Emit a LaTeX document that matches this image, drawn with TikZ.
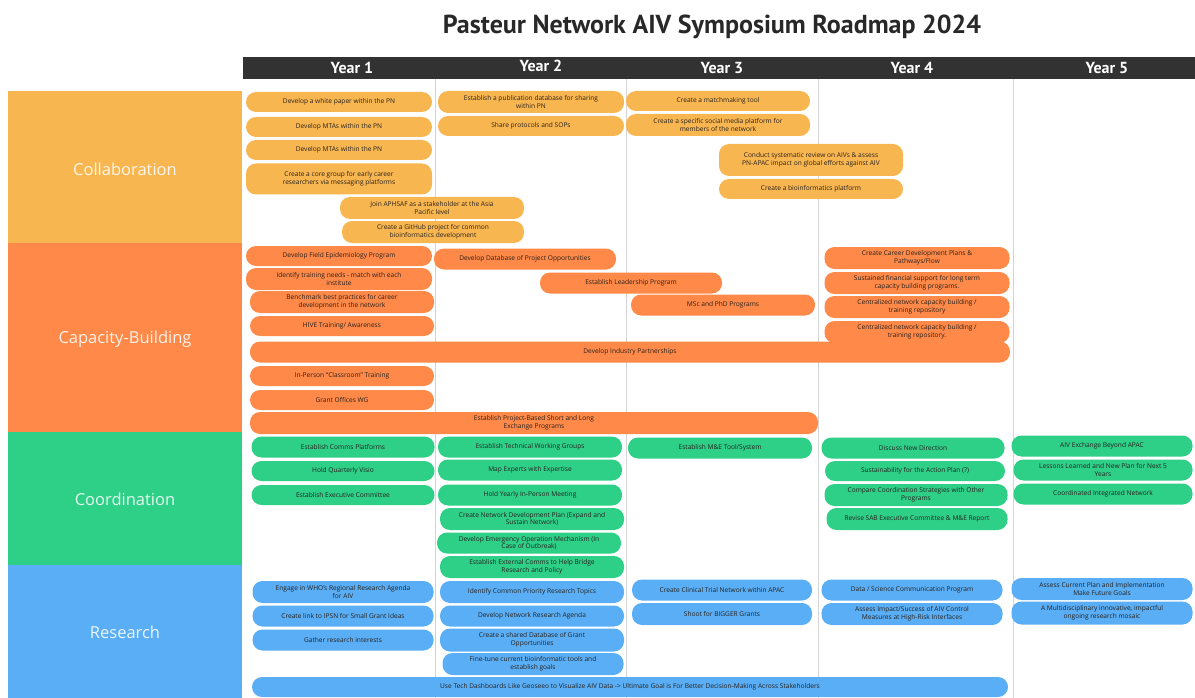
\documentclass[tikz,border=0pt]{standalone}
\usepackage{fontspec}
\setmainfont{Open Sans}
\newfontfamily\headfont{PT Sans}
\usepackage{tikz}
\definecolor{collabgold}{RGB}{248,182,81}
\definecolor{capacityorange}{RGB}{255,137,72}
\definecolor{coordgreen}{RGB}{46,207,135}
\definecolor{researchblue}{RGB}{90,174,245}
\definecolor{headergray}{RGB}{50,50,50}
\definecolor{gridgray}{RGB}{212,212,212}
\definecolor{inkdark}{RGB}{40,34,30}

\begin{document}
\begin{tikzpicture}[x=1pt, y=-1pt,
    pill/.style={rounded corners=10pt, inner sep=1pt, align=center,
        font=\fontsize{6.6}{7.7}\selectfont, text=inkdark},
    bandlabel/.style={text=white, text opacity=0.88, font=\fontsize{16.5}{19}\selectfont},
    yearlabel/.style={text=white, font=\headfont\bfseries\fontsize{16}{18}\selectfont}]
    \useasboundingbox (0,0) rectangle (1195,698);

    % Title
    \node[font=\headfont\bfseries\fontsize{26}{30}\selectfont, text=headergray!80!black] (title) at (712,27)
        {Pasteur Network AIV Symposium Roadmap 2024};

    % Year header bar
    \fill[headergray] (243,57) rectangle (1195,79);
    \foreach \cx/\cy [count=\i] in {352/68, 541/66, 722/68, 912/68, 1107/68} {
        \node[yearlabel] (year\i) at (\cx,\cy) {Year \i};
    }

    % Column dividers
    \foreach \xd in {435,626,818,1013} {
        \draw[gridgray, line width=0.6pt] (\xd,79) -- (\xd,698);
    }

    % Category bands
    \fill[collabgold] (8,91) rectangle (242,243);
    \fill[capacityorange] (8,243) rectangle (242,432);
    \fill[coordgreen] (8,432) rectangle (242,565);
    \fill[researchblue] (8,565) rectangle (242,698);
    \node[bandlabel] (collab) at (125,169) {Collaboration};
    \node[bandlabel] (capacity) at (125,339) {Capacity-Building};
    \node[bandlabel] (coord) at (125,499) {Coordination};
    \node[bandlabel] (research) at (125,632) {Research};

    % Collaboration items
    \foreach \cx/\cy/\w/\h/\txt [count=\i] in {
        339/102/186/20/{Develop a white paper within the PN},
        339/127/186/20/{Develop MTAs within the PN},
        339/150/186/20/{Develop MTAs within the PN},
        339/179/186/31/{Create a core group for early career\\researchers via messaging platforms},
        432/208/184/22/{Join APHSAF as a stakeholder at the Asia\\Pacific level},
        433/232/182/22/{Create a GitHub project for common\\bioinformatics development},
        531/102/186/22/{Establish a publication database for sharing\\within PN},
        531/126/186/20/{Share protocols and SOPs},
        718/101/184/20/{Create a matchmaking tool},
        718/125/184/22/{Create a specific social media platform for\\members of the network},
        811/160/184/32/{Conduct systematic review on AIVs \& assess\\PN-APAC impact on global efforts against AIV},
        811/189/184/20/{Create a bioinformatics platform}%
    } {
        \node[pill, fill=collabgold, minimum width=\w, minimum height=\h] (col\i) at (\cx,\cy) {\txt};
    }

    % Capacity-Building items
    \foreach \cx/\cy/\w/\h/\txt [count=\i] in {
        339/256/186/20/{Develop Field Epidemiology Program},
        339/279/186/22/{Identify training needs - match with each\\institute},
        342/302/184/22/{Benchmark best practices for career\\development in the network},
        342/326/184/20/{HIVE Training/ Awareness},
        525/259/182/21/{Develop Database of Project Opportunities},
        631/283/182/21/{Establish Leadership Program},
        723/305/184/21/{MSc and PhD Programs},
        917/258/185/22/{Create Career Development Plans \&\\Pathways/Flow},
        917/283/185/22/{Sustained financial support for long term\\capacity building programs.},
        917/307/185/22/{Centralized network capacity building /\\training repository},
        917/332/185/22/{Centralized network capacity building /\\training repository.},
        630/352/760/21/{Develop Industry Partnerships},
        342/376/184/20/{In-Person ``Classroom'' Training},
        342/400/184/20/{Grant Offices WG},
        534/423/568/22/{Establish Project-Based Short and Long\\Exchange Programs}%
    } {
        \node[pill, fill=capacityorange, minimum width=\w, minimum height=\h] (cap\i) at (\cx,\cy) {\txt};
    }

    % Coordination items
    \foreach \cx/\cy/\w/\h/\txt [count=\i] in {
        343/447/183/21/{Establish Comms Platforms},
        343/471/183/20/{Hold Quarterly Visio},
        343/495/183/20/{Establish Executive Committee},
        530/447/184/21/{Establish Technical Working Groups},
        530/470/184/21/{Map Experts with Expertise},
        530/495/184/21/{Hold Yearly In-Person Meeting},
        532/519/184/22/{Create Network Development Plan (Expand and\\Sustain Network)},
        529/543/184/21/{Develop Emergency Operation Mechanism (In\\Case of Outbreak)},
        532/567/184/22/{Establish External Comms to Help Bridge\\Research and Policy},
        720/448/184/21/{Establish M\&E Tool/System},
        913/448/183/21/{Discuss New Direction},
        915/471/180/20/{Sustainability for the Action Plan (?)},
        916/495/183/22/{Compare Coordination Strategies with Other\\Programs},
        917/519/181/22/{Revise SAB Executive Committee \& M\&E Report},
        1102/446/181/21/{AIV Exchange Beyond APAC},
        1103/470/179/21/{Lessons Learned and New Plan for Next 5\\Years},
        1103/494/179/21/{Coordinated Integrated Network}%
    } {
        \node[pill, fill=coordgreen, minimum width=\w, minimum height=\h] (crd\i) at (\cx,\cy) {\txt};
    }

    % Research items
    \foreach \cx/\cy/\w/\h/\txt [count=\i] in {
        343/592/181/22/{Engage in WHO's Regional Research Agenda\\for AIV},
        343/616/181/21/{Create link to IPSN for Small Grant Ideas},
        343/640/181/21/{Gather research interests},
        532/592/184/22/{Identify Common Priority Research Topics},
        532/616/184/21/{Develop Network Research Agenda},
        532/640/184/23/{Create a shared Database of Grant\\Opportunities},
        533/664/181/22/{Fine-tune current bioinformatic tools and\\establish goals},
        722/590/180/21/{Create Clinical Trial Network within APAC},
        722/614/180/22/{Shoot for BIGGER Grants},
        912/590/181/21/{Data / Science Communication Program},
        912/614/181/22/{Assess Impact/Success of AIV Control\\Measures at High-Risk Interfaces},
        1102/589/181/22/{Assess Current Plan and Implementation\\Make Future Goals},
        1102/613/181/23/{A Multidisciplinary innovative, impactful\\ongoing research mosaic},
        630/687/756/20/{Use Tech Dashboards Like Geoseeo to Visualize AIV Data -> Ultimate Goal is For Better Decision-Making Across Stakeholders}%
    } {
        \node[pill, fill=researchblue, minimum width=\w, minimum height=\h] (res\i) at (\cx,\cy) {\txt};
    }
\end{tikzpicture}
\end{document}
